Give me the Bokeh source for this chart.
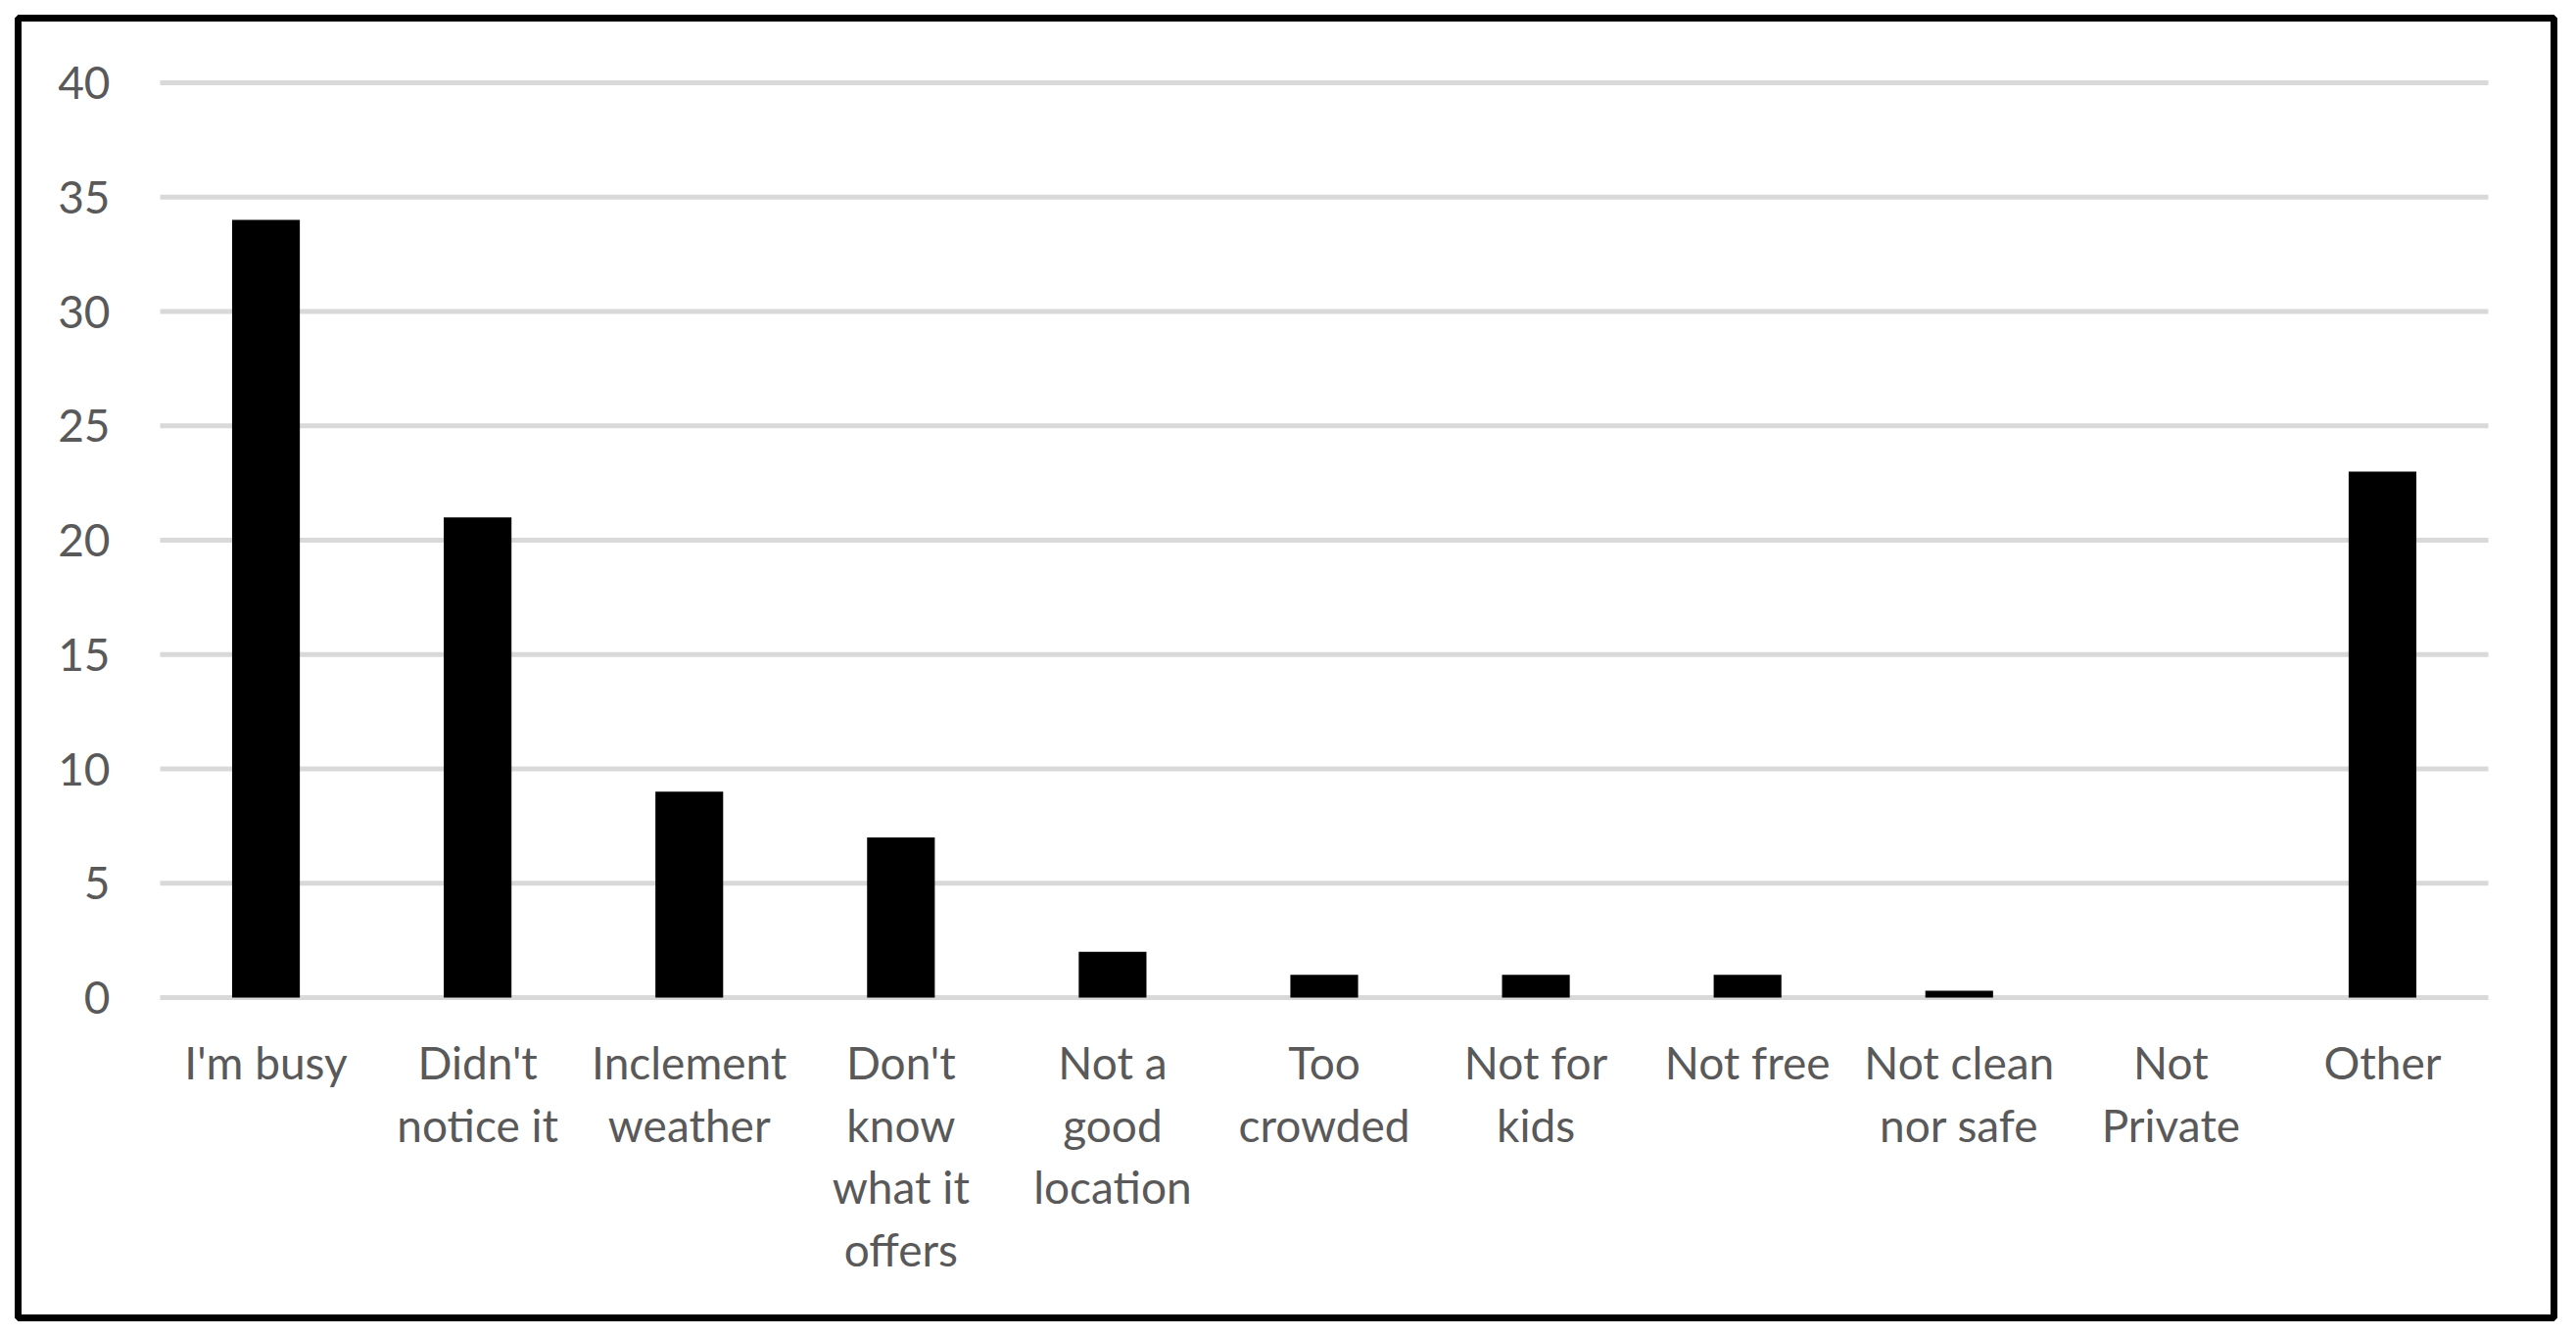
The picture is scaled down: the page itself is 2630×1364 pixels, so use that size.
from bokeh.plotting import figure
from bokeh.models import Range1d, ColumnDataSource
from bokeh.core.properties import value
from bokeh.embed import file_html
from bokeh.resources import INLINE

categories = ["I'm busy", "Didn't notice it", "Inclement weather", "Don't know what it offers",
              "Not a good location", "Too crowded", "Not for kids", "Not free",
              "Not clean nor safe", "Not Private", "Other"]
tick_labels = ["I'm busy", "Didn't\nnotice it", "Inclement\nweather", "Don't\nknow\nwhat it\noffers",
               "Not a\ngood\nlocation", "Too\ncrowded", "Not for\nkids", "Not free",
               "Not clean\nnor safe", "Not\nPrivate", "Other"]
values = [34, 21, 9, 7, 2, 1, 1, 1, 0.3, 0, 23]
y_ticks = [0, 5, 10, 15, 20, 25, 30, 35, 40]

FONT = "Lato"
GRAY = "#595959"
GRID = "#d9d9d9"

# ---- layout in page pixels (canvas sits at the page origin) ----
W, H = 2617, 1355
MB_L, MB_T, MB_R, MB_B = 18, 18, 10, 10
FR_L, FR_R = MB_L, W - MB_R             # frame edges (the black outline sits on them)
FR_T, FR_B = MB_T, H - MB_B
PLOT_L, PLOT_R = 163, 2540              # extent of the category area
Y40, Y0PX = 84, 1018                    # rows of the 40 and 0 gridlines
n = len(categories)
ppx = (PLOT_R - PLOT_L) / n
ppu = (Y0PX - Y40) / 40.0

x_start = -(PLOT_L - FR_L) / ppx
x_end = n + (FR_R - PLOT_R) / ppx
y_end = 40 + (Y40 - FR_T) / ppu
y_start = -(FR_B - Y0PX) / ppu

p = figure(x_range=Range1d(x_start, x_end), y_range=Range1d(y_start, y_end),
           width=W, height=H, output_backend="svg", toolbar_location=None,
           min_border_left=MB_L, min_border_right=MB_R,
           min_border_top=MB_T, min_border_bottom=MB_B)
p.axis.visible = False
p.grid.visible = False
p.background_fill_color = "white"
p.border_fill_color = "white"
p.outline_line_color = "black"
p.outline_line_width = 7

centers = [i + 0.5 for i in range(n)]

# horizontal gridlines over the category area
p.segment(x0=[0] * len(y_ticks), x1=[n] * len(y_ticks), y0=y_ticks, y1=y_ticks,
          line_color=GRID, line_width=5, line_cap="butt")

# bars
p.vbar(x=centers, top=values, width=0.32, fill_color="black", line_color=None)

# y tick labels
p.text(x=[-(PLOT_L - 112) / ppx] * len(y_ticks), y=y_ticks, text=[str(t) for t in y_ticks],
       text_font=value(FONT), text_font_size="46px", text_color=GRAY,
       text_align="right", text_baseline="middle")

# multi-line category labels, one row per text line
lx, ly, lt = [], [], []
for c, lab in zip(centers, tick_labels):
    for i, line in enumerate(lab.split("\n")):
        lx.append(c)
        ly.append(-(66 + 63.5 * i) / ppu)
        lt.append(line)
src = ColumnDataSource(dict(x=lx, y=ly, t=lt))
p.text(x="x", y="y", text="t", source=src,
       text_font=value(FONT), text_font_size="46px", text_color=GRAY,
       text_align="center", text_baseline="alphabetic")

open("out.html", "w").write(file_html(p, INLINE))
